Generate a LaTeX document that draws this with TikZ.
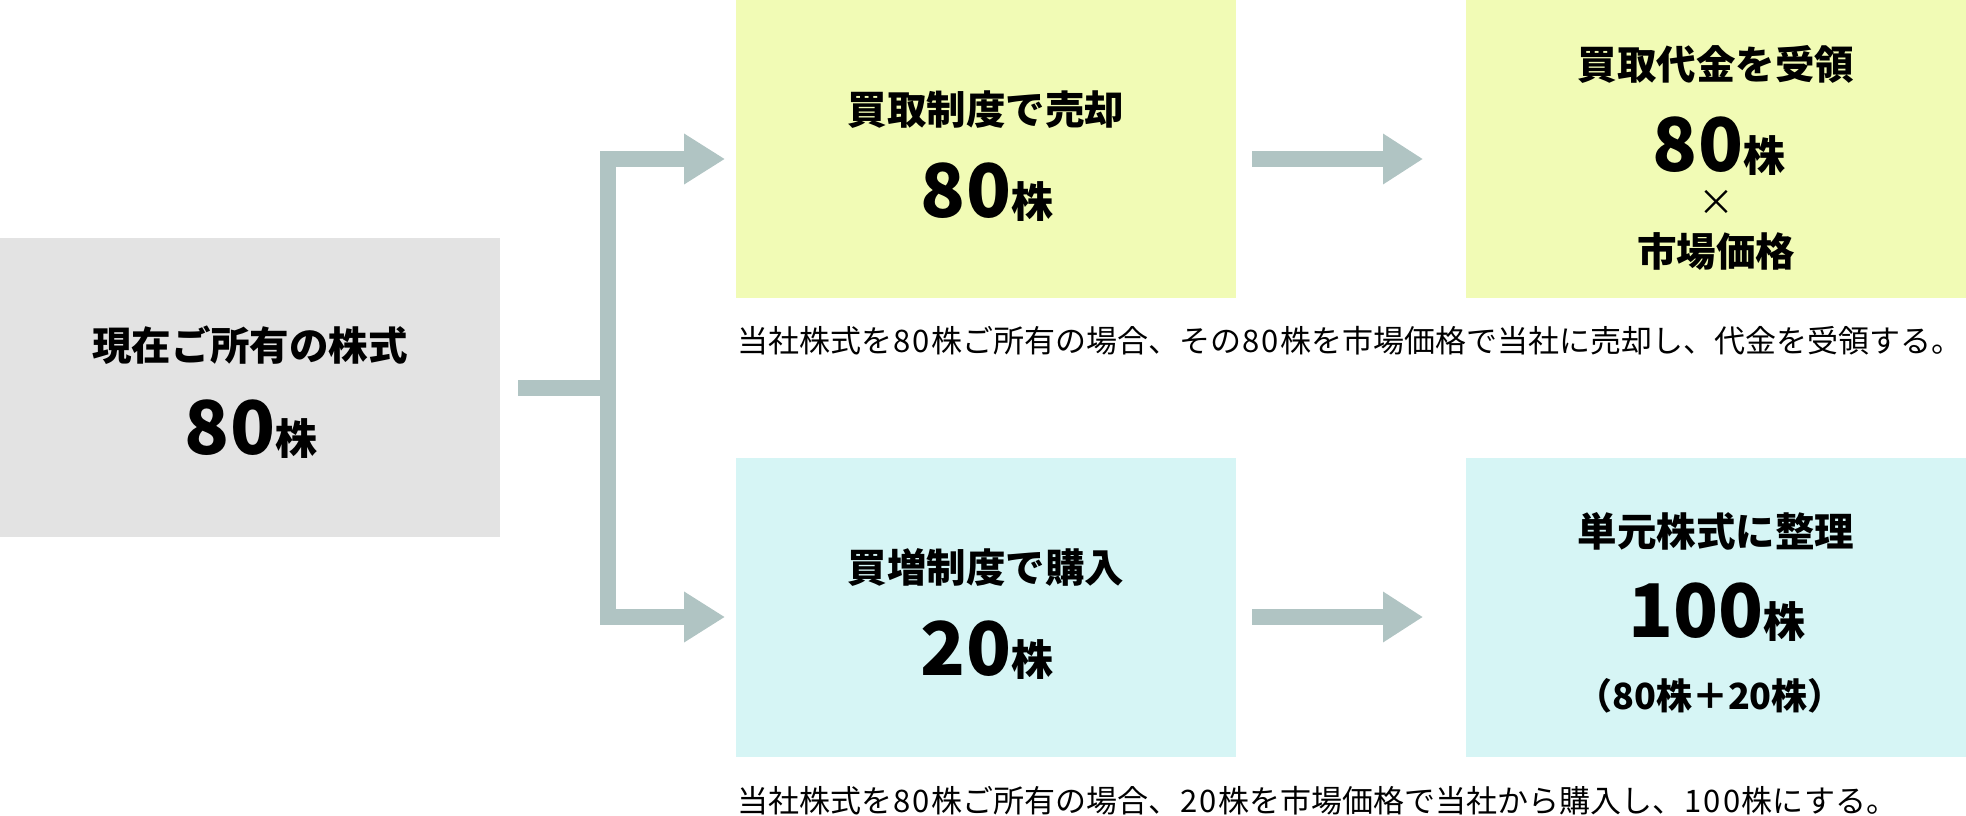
\documentclass[tikz,border=0pt]{standalone}
\usepackage{fontspec}
\newfontfamily\jp{Noto Sans CJK JP}
\usetikzlibrary{arrows.meta}
\definecolor{grayfill}{HTML}{E3E3E3}
\definecolor{yelfill}{HTML}{F1FBB5}
\definecolor{cyanfill}{HTML}{D6F5F5}
\definecolor{arrowc}{HTML}{B0C4C3}
\newcommand\fs[1]{\fontsize{#1}{#1}\selectfont}
\newcommand\cd[1]{\makebox[19.5pt]{#1}}
\newcommand\bign[1]{{\fs{74}#1}{\fs{42}株}}
\begin{document}
\begin{tikzpicture}[x=1pt,y=-1pt,
  panel/.style={draw=none, minimum width=500pt, minimum height=299pt, inner sep=0pt, outer sep=0pt, anchor=north west},
  ttl/.style={font=\jp\bfseries\fs{39.5}, inner sep=0pt},
  big/.style={font=\jp\bfseries, inner sep=0pt},
  captext/.style={font=\jp\fs{31}, inner sep=0pt, anchor=west},
  flow/.style={draw=arrowc, line width=16pt, line join=miter, -{Triangle[length=41pt,width=48pt]}},
]
\useasboundingbox (0,0) rectangle (1966,816);
% panels
\node[panel, fill=grayfill] (g) at (0,238) {};
\node[panel, fill=yelfill, minimum height=298pt] (y1) at (736,0) {};
\node[panel, fill=yelfill, minimum height=298pt] (y2) at (1466,0) {};
\node[panel, fill=cyanfill] (c1) at (736,458) {};
\node[panel, fill=cyanfill] (c2) at (1466,458) {};
% texts
\node[ttl] (gt) at (250,345.5) {現在ご所有の株式};
\node[big] (gn) at (251,429) {\bign{80}};
\node[ttl] (y1t) at (986,110) {買取制度で売却};
\node[big] (y1n) at (987,192.5) {\bign{80}};
\node[ttl] (y2t) at (1716,64.5) {買取代金を受領};
\node[big] (y2n) at (1719,146) {\bign{80}};
\node[font=\jp\fs{36}, inner sep=0pt] (y2x) at (1716,203) {×};
\node[ttl] (y2m) at (1716,251) {市場価格};
\node[ttl] (c1t) at (986,567.5) {買増制度で購入};
\node[big] (c1n) at (987,650) {\bign{20}};
\node[ttl] (c2t) at (1716,531) {単元株式に整理};
\node[big] (c2n) at (1717,612.5) {\bign{100}};
\node[font=\jp\bfseries\fs{36}, inner sep=0pt] (c2p) at (1710,696) {（80株＋20株）};
% captions
\node[captext] (cap1) at (737,340.5) {当社株式を\cd{8}\cd{0}株ご所有の場合、その\cd{8}\cd{0}株を市場価格で当社に売却し、代金を受領する。};
\node[captext] (cap2) at (737,800.5) {当社株式を\cd{8}\cd{0}株ご所有の場合、\cd{2}\cd{0}株を市場価格で当社から購入し、\cd{1}\cd{0}\cd{0}株にする。};
% connectors
\draw[flow, shorten <=18pt, shorten >=11pt] (g.east) -- ++(108,0) |- ([yshift=-10pt]y1.west);
\draw[flow, shorten <=18pt, shorten >=11pt] (g.east) -- ++(108,0) |- ([yshift=-9.5pt]c1.west);
\draw[flow, -{Triangle[length=40pt,width=48pt]}, shorten <=16pt, shorten >=43pt] ([yshift=-10pt]y1.east) -- ([yshift=-10pt]y2.west);
\draw[flow, -{Triangle[length=40pt,width=48pt]}, shorten <=16pt, shorten >=43pt] ([yshift=-9.5pt]c1.east) -- ([yshift=-9.5pt]c2.west);
\end{tikzpicture}
\end{document}
